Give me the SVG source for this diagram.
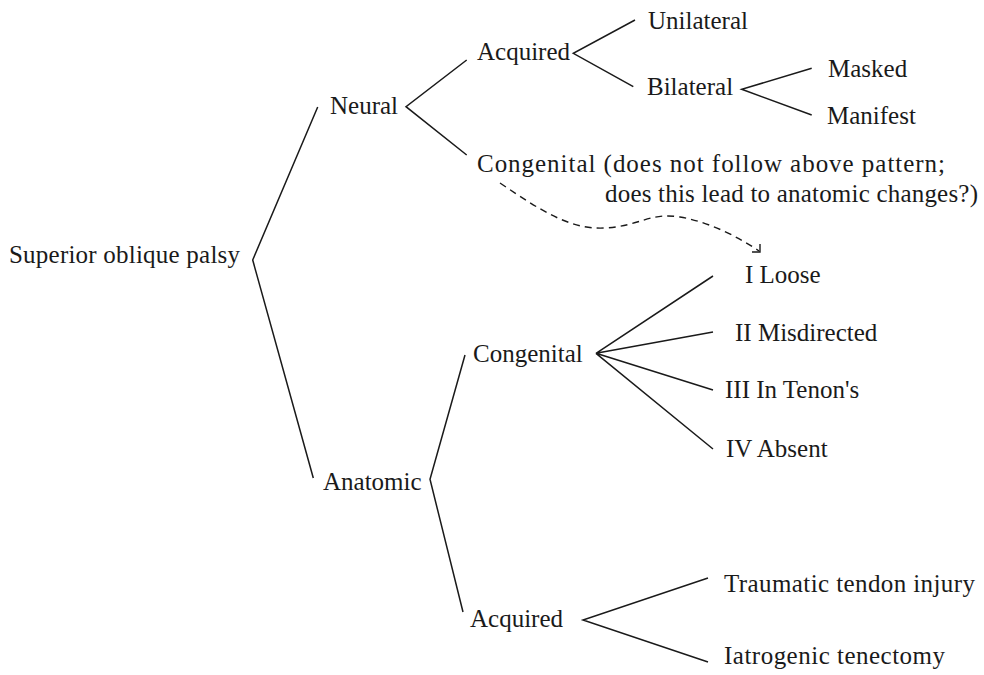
<svg xmlns="http://www.w3.org/2000/svg" width="984" height="675" viewBox="0 0 984 675">
<defs>
<style>
text{font-family:"Liberation Serif","Times New Roman",serif;font-size:25px;fill:#1a1a1a}
.ln{stroke:#1a1a1a;stroke-width:1.5;fill:none}
.dash{stroke:#1a1a1a;stroke-width:1.4;fill:none;stroke-dasharray:7 5}
.arr{stroke:#1a1a1a;stroke-width:1.4;fill:none}
</style>
</defs>
<rect width="984" height="675" fill="#fff"/>
<g id="connectors">
<polyline class="ln" points="317.7,107 252.7,260 313.3,478"/>
<polyline class="ln" points="466.7,60 406,106.7 466.7,155"/>
<polyline class="ln" points="635,20 573.3,53.3 633.3,86.7"/>
<polyline class="ln" points="811.7,68.3 741.7,89.3 811.7,115"/>
<polyline class="ln" points="465,355 430,479.3 463,612"/>
<path class="ln" d="M713,276 L596,353.3 L713,332 M596,353.3 L713,390 M596,353.3 L713,449"/>
<polyline class="ln" points="708,578 583,620 708,662"/>
<path class="dash" d="M500,183 C540,210 570,230 605,228 C640,226 650,212 680,217 C710,222 740,238 759,251"/>
<path class="arr" d="M752,252 L760,252 L760,244"/>
</g>
<g id="n-root"><text x="9" y="263" textLength="231" lengthAdjust="spacing">Superior oblique palsy</text></g>
<g id="n-neural"><text x="330" y="114">Neural</text></g>
<g id="n-acq1"><text x="477" y="60">Acquired</text></g>
<g id="n-uni"><text x="648" y="29">Unilateral</text></g>
<g id="n-bil"><text x="647" y="95">Bilateral</text></g>
<g id="n-masked"><text x="828" y="77">Masked</text></g>
<g id="n-manifest"><text x="827" y="124">Manifest</text></g>
<g id="n-cong1"><text x="477" y="172" textLength="468" lengthAdjust="spacing">Congenital (does not follow above pattern;</text><text x="605" y="202" textLength="373" lengthAdjust="spacing">does this lead to anatomic changes?)</text></g>
<g id="n-anat"><text x="323" y="490">Anatomic</text></g>
<g id="n-cong2"><text x="473" y="362">Congenital</text></g>
<g id="n-i"><text x="745" y="283">I Loose</text></g>
<g id="n-ii"><text x="735" y="341">II Misdirected</text></g>
<g id="n-iii"><text x="725" y="398">III In Tenon's</text></g>
<g id="n-iv"><text x="726" y="457">IV Absent</text></g>
<g id="n-acq2"><text x="470" y="627">Acquired</text></g>
<g id="n-trauma"><text x="724" y="592" textLength="251" lengthAdjust="spacing">Traumatic tendon injury</text></g>
<g id="n-iatro"><text x="724" y="664" textLength="221" lengthAdjust="spacing">Iatrogenic tenectomy</text></g>
</svg>
